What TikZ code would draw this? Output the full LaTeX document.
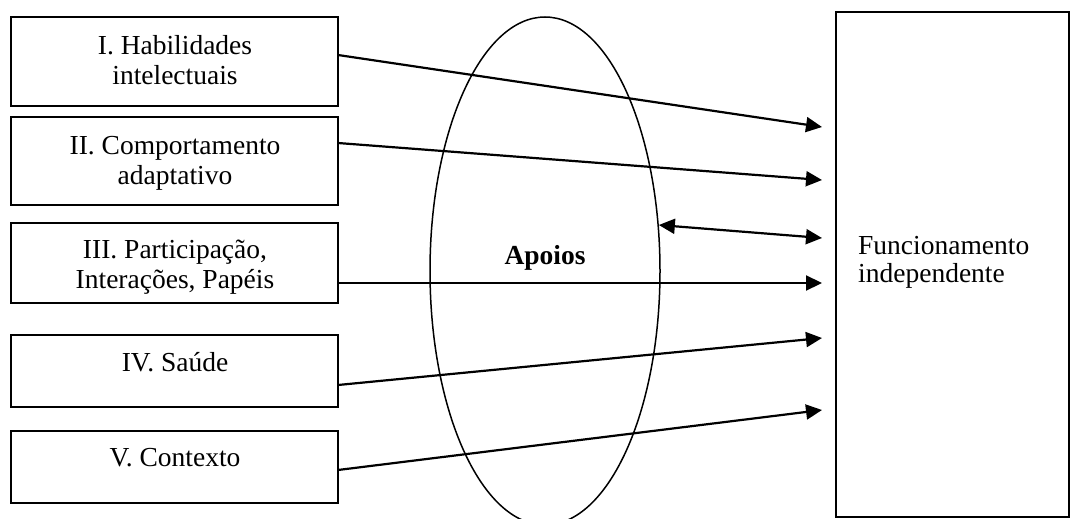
\documentclass[tikz,border=0pt]{standalone}
\usepackage{fontspec}
\setmainfont{Liberation Serif}
\usetikzlibrary{arrows.meta,shapes.geometric}
\tikzset{
  box/.style={draw, line width=1.6pt, rectangle, inner sep=0pt},
  txt/.style={inner sep=0pt, align=center, font=\fontsize{27.5}{30}\selectfont},
  arr/.style={line width=2.2pt, -{Triangle[length=16pt,width=15pt]}},
  darr/.style={line width=2.2pt, {Triangle[length=16pt,width=15pt]}-{Triangle[length=16pt,width=15pt]}}
}
\begin{document}
\begin{tikzpicture}[x=1pt,y=-1pt]
\useasboundingbox (0,0) rectangle (1072,519);
\clip (0,0) rectangle (1072,519);
% left boxes
\node[box, minimum width=327pt, minimum height=89pt] (b1) at (174.5,61.5) {};
\node[box, minimum width=327pt, minimum height=88pt] (b2) at (174.5,161) {};
\node[box, minimum width=327pt, minimum height=80pt] (b3) at (174.5,263) {};
\node[box, minimum width=327pt, minimum height=72pt] (b4) at (174.5,371) {};
\node[box, minimum width=327pt, minimum height=72pt] (b5) at (174.5,467) {};
\node[txt] (t1) at (175,60.5) {I. Habilidades\\intelectuais};
\node[txt] (t2) at (175,163.7) {II. Comportamento\\adaptativo};
\node[txt] (t3) at (175,267.5) {III. Participação,\\Interações, Papéis};
\node[txt] (t4) at (175,362.5) {IV. Saúde};
\node[txt] (t5) at (175,457.7) {V. Contexto};
% right box
\node[box, minimum width=233pt, minimum height=505pt] (fi) at (952.5,264.5) {};
\node[inner sep=0pt, align=left, anchor=west, font=\fontsize{27.5}{28}\selectfont] (ft) at (858,262.6) {Funcionamento\\independente};
% ellipse
\node[draw, ellipse, line width=1.5pt, minimum width=230pt, minimum height=508pt, inner sep=0pt] (apo) at (545,271) {};
\node[inner sep=0pt, font=\fontsize{27.5}{30}\selectfont\bfseries] (apt) at (545,257.7) {Apoios};
% arrow end points
\coordinate (s1) at (338,55);
\coordinate (s2) at (338,143);
\coordinate (s3) at (338,283);
\coordinate (s4) at (338,385);
\coordinate (s5) at (338,470);
\coordinate (e1) at (822,127);
\coordinate (e2) at (822,180);
\coordinate (ed) at (822,238);
\coordinate (e3) at (822,283);
\coordinate (e4) at (822,338);
\coordinate (e5) at (822,410);
\draw[arr] (s1) -- (e1);
\draw[arr] (s2) -- (e2);
\draw[darr] (apo.22) -- (ed);
\draw[arr] (s3) -- (e3);
\draw[arr] (s4) -- (e4);
\draw[arr] (s5) -- (e5);
\end{tikzpicture}
\end{document}
